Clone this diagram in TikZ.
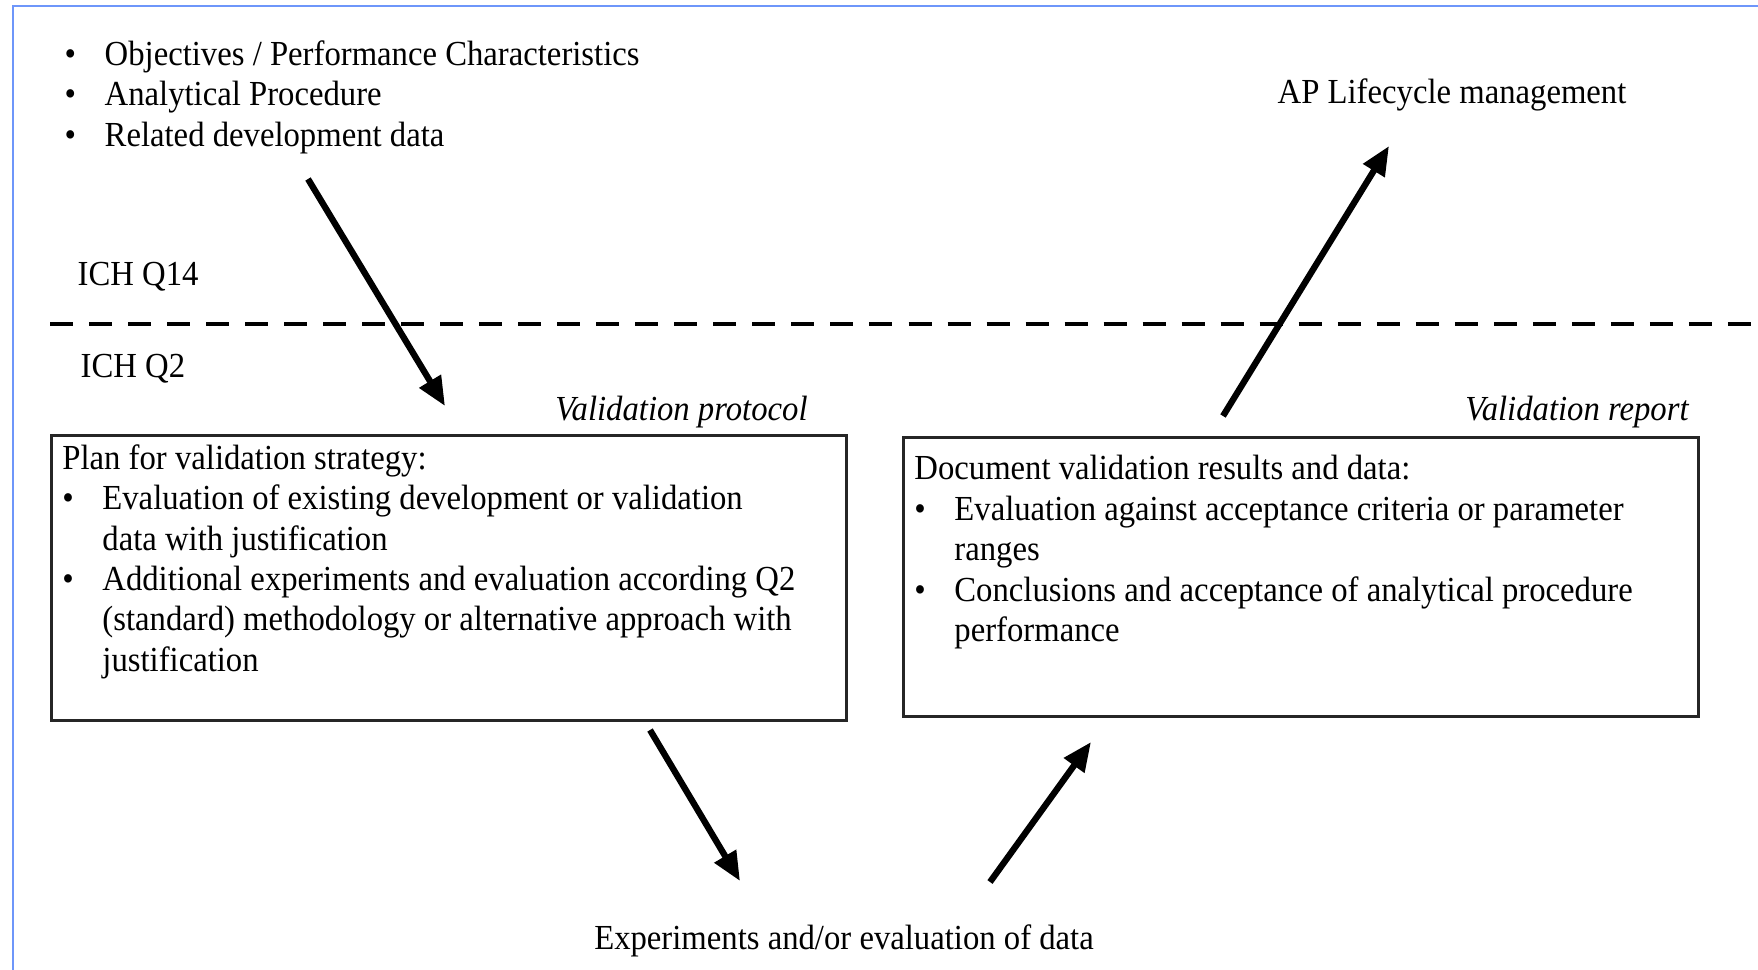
\documentclass[tikz,border=0pt]{standalone}
\usepackage{fontspec}
\setmainfont{Liberation Serif}[FakeStretch=0.93]
\usetikzlibrary{positioning, arrows.meta}
\tikzset{>={Triangle[length=0.29cm,width=0.24cm]}}
\definecolor{frameblue}{RGB}{110,150,250}
\newcommand{\bitem}[1]{\par\hangindent=0.4cm\hangafter=1\noindent\makebox[0.4cm][l]{\textbullet}#1}

\begin{document}
\begin{tikzpicture}[x=0.01cm, y=-0.01cm,
  txt/.style={inner sep=0pt, font=\fontsize{10pt}{11.5pt}\selectfont},
  list/.style={txt, align=left, anchor=north west},
  label/.style={txt, font=\fontsize{10pt}{11.5pt}\selectfont\itshape},
  stagebox/.style={draw=black!85, line width=0.8pt, inner xsep=0.11cm, inner ysep=0.09cm,
    anchor=north west, font=\fontsize{10pt}{11.5pt}\selectfont},
  flow/.style={->, line width=1.8pt},
  divider/.style={line width=1.4pt, dash pattern=on 0.23cm off 0.16cm}]
\useasboundingbox (0,0) rectangle (1758,970);
\draw[frameblue, line width=0.7pt] (13,970) -- (13,6) -- (1758,6);

% inputs and outputs
\node[list] (inputs) at (64,40) {\makebox[0.4cm][l]{\textbullet}Objectives / Performance Characteristics\\
  \makebox[0.4cm][l]{\textbullet}Analytical Procedure\\
  \makebox[0.4cm][l]{\textbullet}Related development data};
\node[txt] (lifecycle) at (1452,95) {AP Lifecycle management};
\node[txt] (experiments) at (844,941) {Experiments and/or evaluation of data};

% guideline split
\node[txt, anchor=west] (q14) at (77,277) {ICH Q14};
\node[txt, anchor=west] (q2) at (80,369) {ICH Q2};
\coordinate (splitL) at (50,324);
\coordinate (splitR) at (1758,324);
\draw[divider] (splitL) -- (splitR);

% protocol and report
\node[stagebox] (protocol) at (50,434) {\parbox[c][2.67cm][t]{7.73cm}{
  Plan for validation strategy:
  \bitem{Evaluation of existing development or validation\newline data with justification}
  \bitem{Additional experiments and evaluation according Q2\newline (standard) methodology or alternative approach with\newline justification}}};
\node[stagebox] (report) at (902,436) {\parbox[c][2.61cm][t]{7.73cm}{
  \vspace*{0.09cm}Document validation results and data:
  \bitem{Evaluation against acceptance criteria or parameter\newline ranges}
  \bitem{Conclusions and acceptance of analytical procedure\newline performance}}};
\node[label, above left=0.05cm and 0.4cm of protocol.north east, anchor=south east] (protocolLbl) {Validation protocol};
\node[label, above left=0.07cm and 0.11cm of report.north east, anchor=south east] (reportLbl) {Validation report};

% arrows
\coordinate (inTail) at (308,179);   \coordinate (inTip) at (445,406);
\coordinate (outTail) at (1223,416); \coordinate (outTip) at (1389,146);
\coordinate (runTail) at (650,730);  \coordinate (runTip) at (740,881);
\coordinate (backTail) at (990,882); \coordinate (backTip) at (1091,742);
\draw[flow] (inTail) -- (inTip);
\draw[flow] (outTail) -- (outTip);
\draw[flow] (runTail) -- (runTip);
\draw[flow] (backTail) -- (backTip);
\end{tikzpicture}
\end{document}
